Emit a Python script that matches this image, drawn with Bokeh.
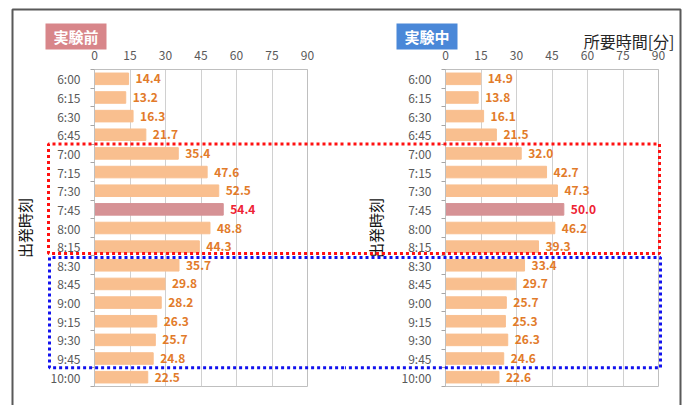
from bokeh.plotting import figure
from bokeh.layouts import row
from bokeh.models import Range1d, FixedTicker
from bokeh.core.properties import value
from bokeh.embed import file_html
from bokeh.resources import INLINE

# ---------------- data ----------------
times = ["6:00", "6:15", "6:30", "6:45", "7:00", "7:15", "7:30", "7:45", "8:00",
         "8:15", "8:30", "8:45", "9:00", "9:15", "9:30", "9:45", "10:00"]
before = [14.4, 13.2, 16.3, 21.7, 35.4, 47.6, 52.5, 54.4, 48.8,
          44.3, 35.7, 29.8, 28.2, 26.3, 25.7, 24.8, 22.5]
during = [14.9, 13.8, 16.1, 21.5, 32.0, 42.7, 47.3, 50.0, 46.2,
          39.3, 33.4, 29.7, 25.7, 25.3, 26.3, 24.6, 22.6]
peak_time = "7:45"
x_ticks = [0, 15, 30, 45, 60, 75, 90]
peak_group = ("7:00", "8:15")      # red dotted box
after_group = ("8:30", "9:45")     # blue dotted box
panel_titles = ["実験前", "実験中"]
y_title = "出発時刻"
x_title = "所要時間[分]"

# ---------------- style / layout ----------------
FONT = "Noto Sans CJK JP"
W_FIG, H_FIG = 345, 405
TOP, BOTTOM = 69, 19
FRAME_H = H_FIG - TOP - BOTTOM
FRAME_W = 213
N = len(times)
XMAX = x_ticks[-1]
SX = FRAME_W / XMAX
SY = FRAME_H / N
BAR_C, PEAK_C = "#f9bf8f", "#d69295"
LAB_C, PEAK_LAB_C = "#e27b2a", "#ee2233"


def dx(px, zero_px):
    return (px - zero_px) / SX


def dy(py):
    return -0.5 + (py - TOP) / SY


def make_panel(vals, title, title_color, left_border, side):
    zero_px = left_border
    off = 0 if side == "left" else W_FIG
    p = figure(width=W_FIG, height=H_FIG, output_backend="svg", toolbar_location=None,
               x_range=Range1d(0, XMAX), y_range=Range1d(N - 0.5, -0.5),
               x_axis_location="above", min_border_left=left_border,
               min_border_right=W_FIG - left_border - FRAME_W,
               min_border_top=TOP, min_border_bottom=BOTTOM)
    p.outline_line_color = "#bfbfbf"
    p.background_fill_color = "white"
    p.border_fill_color = "white"
    idx = list(range(N))
    colors = [PEAK_C if t == peak_time else BAR_C for t in times]
    lcolors = [PEAK_LAB_C if t == peak_time else LAB_C for t in times]
    p.hbar(y=idx, right=vals, left=0, height=0.62, color=colors)
    p.text(x=vals, y=idx, text=[f"{v:.1f}" for v in vals], x_offset=7,
           text_color=lcolors, text_font=value(FONT), text_font_size="12px",
           text_font_style="bold", text_baseline="middle", text_align="left")

    xa = p.xaxis[0]
    xa.ticker = FixedTicker(ticks=x_ticks, minor_ticks=[])
    xa.major_tick_out = 0
    xa.major_tick_in = 0
    xa.axis_line_color = "#bfbfbf"
    xa.major_label_standoff = 10
    xa.major_label_text_font = FONT
    xa.major_label_text_font_size = "12px"
    xa.major_label_text_color = "#595959"

    ya = p.yaxis[0]
    ya.ticker = FixedTicker(ticks=idx, minor_ticks=[i + 0.5 for i in range(-1, N)])
    ya.major_label_overrides = {i: t for i, t in enumerate(times)}
    ya.major_tick_line_color = None
    ya.minor_tick_out = 4
    ya.minor_tick_in = 0
    ya.minor_tick_line_color = "#a6a6a6"
    ya.axis_line_color = "#bfbfbf"
    ya.major_label_standoff = 8
    ya.major_label_text_font = FONT
    ya.major_label_text_font_size = "12px"
    ya.major_label_text_color = "#595959"
    ya.axis_label = y_title
    ya.axis_label_text_font = FONT
    ya.axis_label_text_font_size = "15px"
    ya.axis_label_text_font_style = "normal"
    ya.axis_label_text_color = "#111111"
    ya.axis_label_standoff = 13

    p.xgrid.grid_line_color = "#d0d0d0"
    p.ygrid.grid_line_color = None

    # title box
    cx = dx((75.5 if side == "left" else 426.5) - off, zero_px)
    p.rect(x=[cx], y=[dy(36)], width=61 / SX, height=26 / SY,
           fill_color=title_color, line_color=None, level="overlay")
    p.text(x=[cx], y=[dy(36)], text=[title], text_color="white",
           text_font=value(FONT), text_font_size="15px", text_font_style="bold",
           text_align="center", text_baseline="middle", level="overlay")

    # dotted group boxes & outer frame (decoration around both panels)
    r0, r1 = times.index(peak_group[0]), times.index(peak_group[1])
    b0, b1 = times.index(after_group[0]), times.index(after_group[1])
    red_top, red_bot = r0 - 0.5, r1 + 0.5 - 0.13
    blue_top, blue_bot = b0 - 0.5 + 0.08, b1 + 0.5
    if side == "left":
        far = dx(W_FIG + 10, zero_px)
        xr, xb, xo = dx(48, zero_px), dx(49, zero_px), dx(12, zero_px)
        p.line([far, xr, xr, far], [red_top, red_top, red_bot, red_bot],
               line_color="#ff1111", line_width=3, line_dash="3 3", level="overlay")
        p.line([far, xb, xb, far], [blue_top, blue_top, blue_bot, blue_bot],
               line_color="#1111ee", line_width=3, line_dash="3 3", level="overlay")
        p.line([far, xo, xo], [dy(9), dy(9), dy(H_FIG + 10)],
               line_color="#595959", line_width=2, level="overlay")
    else:
        far = dx(-10, zero_px)
        xr, xb, xo = dx(659 - off, zero_px), dx(660 - off, zero_px), dx(680 - off, zero_px)
        p.line([far, xr, xr, far], [red_top, red_top, red_bot, red_bot],
               line_color="#ff1111", line_width=3, line_dash="3 3", level="overlay")
        p.line([far, xb, xb, far], [blue_top, blue_top, blue_bot, blue_bot],
               line_color="#1111ee", line_width=3, line_dash="3 3", level="overlay")
        p.line([far, xo, xo], [dy(9), dy(9), dy(H_FIG + 10)],
               line_color="#595959", line_width=2, level="overlay")
        p.text(x=[dx(674 - off, zero_px)], y=[dy(40)], text=[x_title],
               text_color="#262626", text_font=value(FONT), text_font_size="16px",
               text_align="right", text_baseline="middle", level="overlay")
    return p


p1 = make_panel(before, panel_titles[0], "#d8868a", 94, "left")
p2 = make_panel(during, panel_titles[1], "#4a88d8", 100, "right")
layout = row(p1, p2, spacing=0)

open("out.html", "w").write(file_html(layout, INLINE))
